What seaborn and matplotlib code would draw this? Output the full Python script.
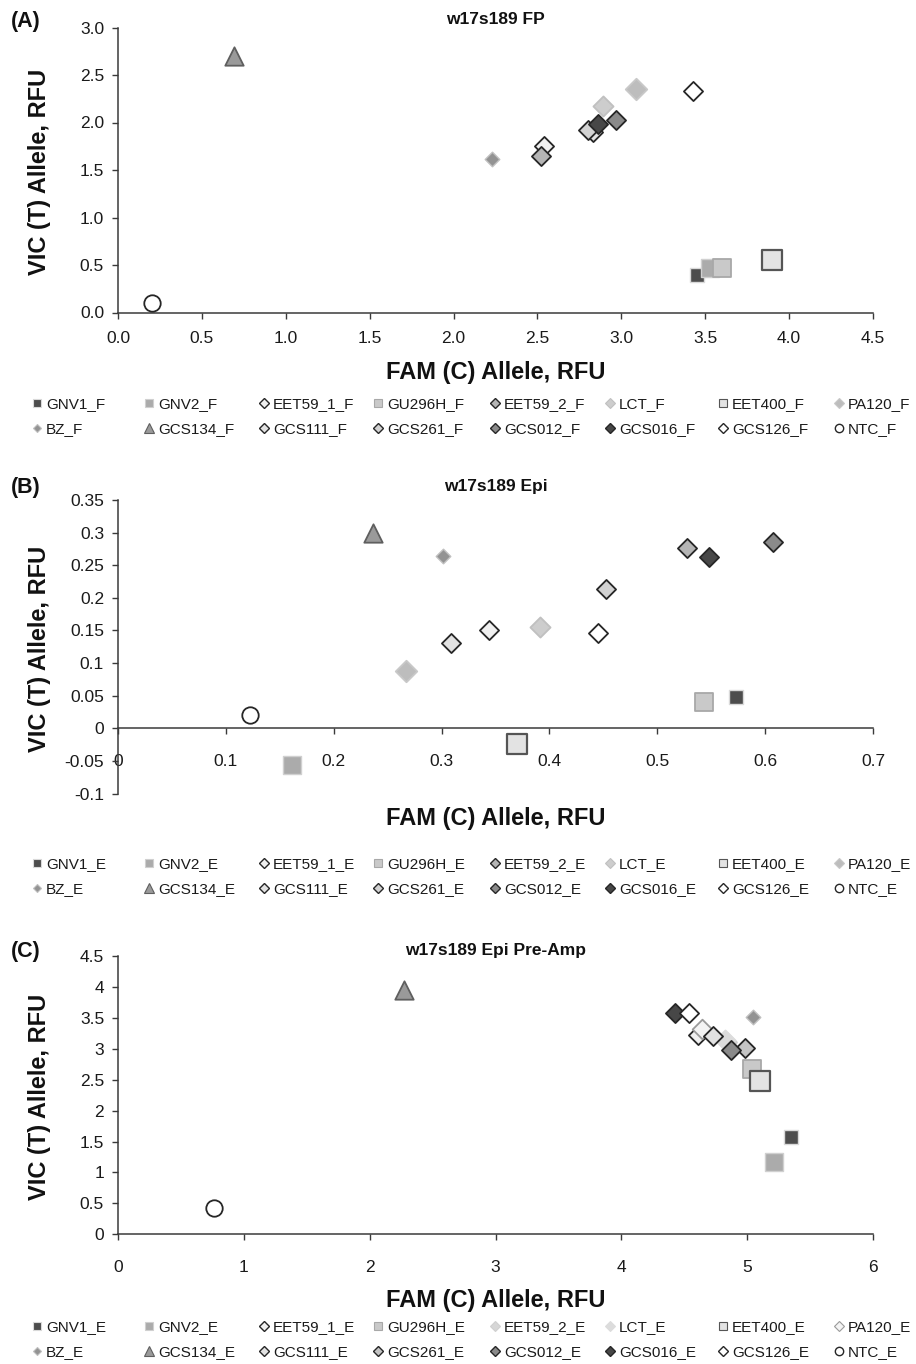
import matplotlib
matplotlib.use("Agg")
import matplotlib.pyplot as plt
import seaborn as sns
import numpy as np
import pandas as pd
from matplotlib.lines import Line2D
from matplotlib import font_manager

# ---------------- data ----------------
samples = ['GNV1', 'GNV2', 'EET59_1', 'GU296H', 'EET59_2', 'LCT', 'EET400', 'PA120',
           'BZ', 'GCS134', 'GCS111', 'GCS261', 'GCS012', 'GCS016', 'GCS126', 'NTC']

fp_fam = [3.45, 3.53, 2.54, 3.60, 2.52, 2.89, 3.90, 3.09, 2.23, 0.69, 2.83, 2.80, 2.97, 2.86, 3.43, 0.20]
fp_vic = [0.39, 0.47, 1.75, 0.47, 1.65, 2.17, 0.55, 2.35, 1.62, 2.70, 1.90, 1.92, 2.03, 1.98, 2.33, 0.10]

epi_fam = [0.573, 0.161, 0.344, 0.543, 0.528, 0.391, 0.370, 0.267, 0.301, 0.236, 0.309, 0.452, 0.607, 0.548, 0.445, 0.122]
epi_vic = [0.048, -0.057, 0.150, 0.041, 0.276, 0.156, -0.024, 0.088, 0.264, 0.300, 0.130, 0.213, 0.285, 0.263, 0.146, 0.020]

pre_fam = [5.35, 5.21, 4.61, 5.04, 4.84, 4.82, 5.10, 4.64, 5.05, 2.27, 4.73, 4.98, 4.87, 4.43, 4.54, 0.76]
pre_vic = [1.57, 1.16, 3.23, 2.67, 3.12, 3.15, 2.48, 3.33, 3.52, 3.95, 3.21, 3.01, 2.98, 3.59, 3.59, 0.42]

titles = ['w17s189 FP', 'w17s189 Epi', 'w17s189 Epi Pre-Amp']
panel_letters = ['(A)', '(B)', '(C)']
suffixes = ['_F', '_E', '_E']
xlabel = 'FAM (C) Allele, RFU'
ylabel = 'VIC (T) Allele, RFU'

a_xticks = [0.0, 0.5, 1.0, 1.5, 2.0, 2.5, 3.0, 3.5, 4.0, 4.5]
a_xlabels = ['0.0', '0.5', '1.0', '1.5', '2.0', '2.5', '3.0', '3.5', '4.0', '4.5']
a_yticks = [0.0, 0.5, 1.0, 1.5, 2.0, 2.5, 3.0]
a_ylabels = ['0.0', '0.5', '1.0', '1.5', '2.0', '2.5', '3.0']
b_xticks = [0.0, 0.1, 0.2, 0.3, 0.4, 0.5, 0.6, 0.7]
b_xlabels = ['0', '0.1', '0.2', '0.3', '0.4', '0.5', '0.6', '0.7']
b_yticks = [-0.1, -0.05, 0.0, 0.05, 0.1, 0.15, 0.2, 0.25, 0.3, 0.35]
b_ylabels = ['-0.1', '-0.05', '0', '0.05', '0.1', '0.15', '0.2', '0.25', '0.3', '0.35']
c_xticks = [0, 1, 2, 3, 4, 5, 6]
c_xlabels = ['0', '1', '2', '3', '4', '5', '6']
c_yticks = [0, 0.5, 1, 1.5, 2, 2.5, 3, 3.5, 4, 4.5]
c_ylabels = ['0', '0.5', '1', '1.5', '2', '2.5', '3', '3.5', '4', '4.5']

# ---------------- styles ----------------
sns.set_theme(style='white')
names = {f.name for f in font_manager.fontManager.ttflist}
BASE = 'Liberation Sans' if 'Liberation Sans' in names else 'DejaVu Sans'
NARROW = 'Liberation Sans Narrow' if 'Liberation Sans Narrow' in names else BASE
plt.rcParams['font.family'] = [BASE, 'DejaVu Sans']

EDGE = '#262626'
base_style = {
    'GNV1':    dict(m='s', fc='#4d4d4d', ec='#d9d9d9', lw=1.0, s=115, ms=6.0),
    'GNV2':    dict(m='s', fc='#ababab', ec='#d0d0d0', lw=1.0, s=155, ms=6.0),
    'EET59_1': dict(m='D', fc='#f0f0f0', ec=EDGE, lw=1.3, s=95, ms=4.8),
    'GU296H':  dict(m='s', fc='#c9c9c9', ec='#a8a8a8', lw=1.3, s=155, ms=6.0),
    'EET59_2': dict(m='D', fc='#b5b5b5', ec=EDGE, lw=1.3, s=95, ms=4.8),
    'LCT':     dict(m='D', fc='#cdcdcd', ec='#c0c0c0', lw=1.3, s=105, ms=4.8),
    'EET400':  dict(m='s', fc='#e3e3e3', ec='#555555', lw=1.6, s=195, ms=6.0),
    'PA120':   dict(m='D', fc='#bdbdbd', ec='#c8c8c8', lw=1.3, s=120, ms=4.8),
    'BZ':      dict(m='D', fc='#939393', ec='#c0c0c0', lw=1.0, s=55, ms=3.6),
    'GCS134':  dict(m='^', fc='#9a9a9a', ec='#5f5f5f', lw=1.3, s=175, ms=6.5),
    'GCS111':  dict(m='D', fc='#e2e2e2', ec=EDGE, lw=1.3, s=95, ms=4.8),
    'GCS261':  dict(m='D', fc='#d2d2d2', ec=EDGE, lw=1.3, s=95, ms=4.8),
    'GCS012':  dict(m='D', fc='#8a8a8a', ec=EDGE, lw=1.3, s=95, ms=4.8),
    'GCS016':  dict(m='D', fc='#474747', ec=EDGE, lw=1.3, s=95, ms=4.8),
    'GCS126':  dict(m='D', fc='#ffffff', ec=EDGE, lw=1.3, s=95, ms=4.8),
    'NTC':     dict(m='o', fc='#ffffff', ec=EDGE, lw=1.3, s=140, ms=6.0),
}
c_style = {k: dict(v) for k, v in base_style.items()}
c_style['EET59_2'].update(fc='#d6d6d6', ec='#cfcfcf')
c_style['LCT'].update(fc='#dcdcdc', ec='#dcdcdc')
c_style['PA120'].update(fc='#f4f4f4', ec='#9a9a9a', s=100)
c_style['GCS261'].update(fc='#c4c4c4')
styles = [base_style, base_style, c_style]

W, H = 916, 1364
fig = plt.figure(figsize=(W / 100, H / 100), dpi=100)

def fx(px):
    return px / W

def fy(py):
    return 1 - py / H

# axes boxes in pixel coords: (left, top, right, bottom)
boxes = [(118, 27.5, 873, 312.5), (118, 500, 873, 793.5), (118, 956.5, 873, 1234)]
limits = [((0, 4.5), (0, 3.0)), ((0, 0.7), (-0.1, 0.35)), ((0, 6), (0, 4.5))]
ticks = [(a_xticks, a_xlabels, a_yticks, a_ylabels),
         (b_xticks, b_xlabels, b_yticks, b_ylabels),
         (c_xticks, c_xlabels, c_yticks, c_ylabels)]
datasets = [(fp_fam, fp_vic), (epi_fam, epi_vic), (pre_fam, pre_vic)]
xpads = [9.0, 14.0, 14.5]
xlabel_y = [372, 819, 1300]
title_y = [20, 487, 950]
legend_rows = [406, 866, 1329]
col_x = [37, 149, 264, 378, 495, 610, 723, 839]

for p in range(3):
    l, t, r, b = boxes[p]
    ax = fig.add_axes([fx(l), fy(b), fx(r - l), (b - t) / H])
    fam, vic = datasets[p]
    st = styles[p]
    for i, name in enumerate(samples):
        s = st[name]
        sns.scatterplot(x=[fam[i]], y=[vic[i]], ax=ax, marker=s['m'], s=s['s'],
                        color=s['fc'], edgecolor=s['ec'], linewidth=s['lw'],
                        legend=False, zorder=3, clip_on=False)
    (x0, x1), (y0, y1) = limits[p]
    ax.set_xlim(x0, x1)
    ax.set_ylim(y0, y1)
    xt, xl, yt, yl = ticks[p]
    ax.set_xticks(xt)
    ax.set_xticklabels(xl)
    ax.set_yticks(yt)
    ax.set_yticklabels(yl)
    for side in ['top', 'right']:
        ax.spines[side].set_visible(False)
    for side in ['left', 'bottom']:
        ax.spines[side].set_color('#3a3a3a')
        ax.spines[side].set_linewidth(1.1)
    if p == 1:
        ax.spines['bottom'].set_position(('data', 0))
    ax.tick_params(axis='both', which='both', direction='out', length=4.5, width=1.0,
                   color='#3a3a3a', labelsize=12.5, labelcolor='#1a1a1a',
                   bottom=True, left=True)
    ax.tick_params(axis='x', pad=xpads[p])
    ax.tick_params(axis='y', pad=5.5)
    ax.grid(False)
    ax.set_facecolor('white')

    # axis labels
    fig.text(fx(495.5), fy(xlabel_y[p]), xlabel, ha='center', va='center',
             fontsize=17, fontweight='bold', color='#111111')
    fig.text(fx(40), fy((t + b) / 2 + 2), ylabel, ha='center', va='center',
             rotation=90, fontsize=17, fontweight='bold', color='#111111')
    fig.text(fx(495.5), fy(title_y[p]), titles[p], ha='center', va='center',
             fontsize=12.5, fontweight='bold', family=[NARROW, 'DejaVu Sans'], color='#111111')
    fig.text(fx(11), fy(title_y[p] + 1), panel_letters[p], ha='left', va='center',
             fontsize=15.5, fontweight='bold', color='#111111')

    # legend: 8 columns, 2 rows (row-major like the original)
    handles = []
    for name in samples:
        s = st[name]
        handles.append(Line2D([], [], ls='', marker=s['m'], markersize=s['ms'],
                              markerfacecolor=s['fc'], markeredgecolor=s['ec'],
                              markeredgewidth=1.0 if s['ec'] == EDGE else 0.8))
    labels = [n + suffixes[p] for n in samples]
    for c in range(8):
        leg = fig.legend([handles[c], handles[c + 8]], [labels[c], labels[c + 8]],
                         loc='upper left',
                         bbox_to_anchor=(fx(col_x[c] - 4.6), fy(legend_rows[p] - 9)),
                         frameon=False, fontsize=11, handlelength=0.6,
                         handletextpad=0.3, borderpad=0, borderaxespad=0,
                         labelspacing=0.75, labelcolor='#1a1a1a')

fig.savefig('out.png', dpi=100, facecolor='white')
